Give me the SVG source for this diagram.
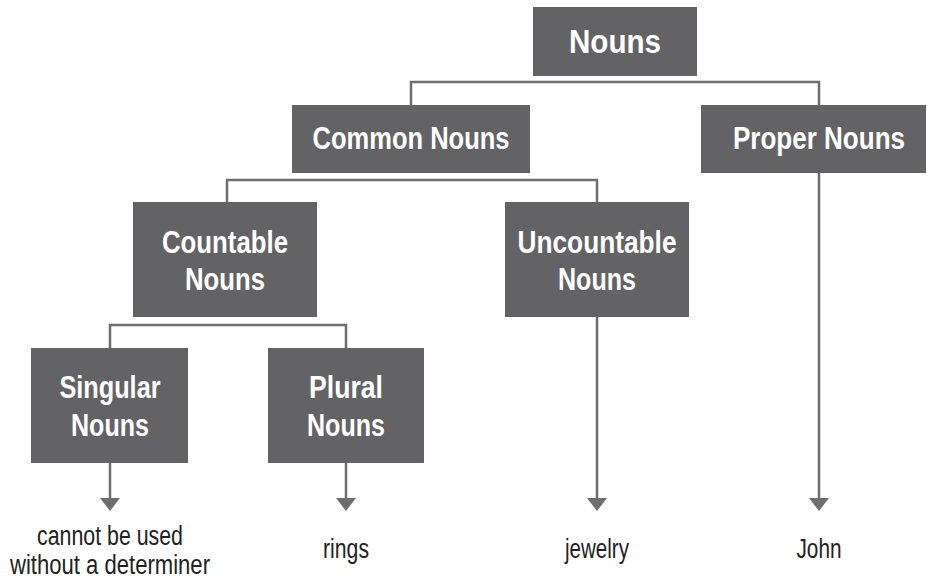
<svg xmlns="http://www.w3.org/2000/svg" width="927" height="579" viewBox="0 0 927 579">
<style>
.box{fill:#636365}
.t{font-family:"Liberation Sans",Arial,sans-serif;font-weight:bold;font-size:31px;fill:#ffffff;text-anchor:middle}
.big{font-size:33px}
.lbl{font-family:"Liberation Sans",Arial,sans-serif;font-size:27px;fill:#222222;text-anchor:middle}
.ln{fill:none;stroke:#6e6e6e;stroke-width:2.5}
.ah{fill:#6e6e6e}
</style>
<g id="connectors">
<path class="ln" d="M411,105 V82 H819 V105"/>
<path class="ln" d="M227,202 V180 H597 V202"/>
<path class="ln" d="M110,348 V325 H346 V348"/>
<line class="ln" x1="110" y1="463" x2="110" y2="499"/>
<path class="ah" d="M100,498 L120,498 L110,511 Z"/>
<line class="ln" x1="346" y1="463" x2="346" y2="499"/>
<path class="ah" d="M336,498 L356,498 L346,511 Z"/>
<line class="ln" x1="597" y1="317" x2="597" y2="499"/>
<path class="ah" d="M587,498 L607,498 L597,511 Z"/>
<line class="ln" x1="819" y1="173" x2="819" y2="499"/>
<path class="ah" d="M809,498 L829,498 L819,511 Z"/>
</g>
<g id="nouns">
<rect class="box" x="533" y="7" width="164" height="69"/>
<text class="t big" x="615" y="53" textLength="92" lengthAdjust="spacingAndGlyphs">Nouns</text>
</g>
<g id="common">
<rect class="box" x="292" y="105" width="238" height="68"/>
<text class="t" x="411" y="149" textLength="197" lengthAdjust="spacingAndGlyphs">Common Nouns</text>
</g>
<g id="proper">
<rect class="box" x="701" y="105" width="225" height="68"/>
<text class="t" x="819" y="149" textLength="172" lengthAdjust="spacingAndGlyphs">Proper Nouns</text>
</g>
<g id="countable">
<rect class="box" x="133" y="202" width="184" height="115"/>
<text class="t" x="225" y="253" textLength="126" lengthAdjust="spacingAndGlyphs">Countable</text>
<text class="t" x="225" y="290" textLength="80" lengthAdjust="spacingAndGlyphs">Nouns</text>
</g>
<g id="uncountable">
<rect class="box" x="505" y="202" width="184" height="115"/>
<text class="t" x="597" y="253" textLength="159" lengthAdjust="spacingAndGlyphs">Uncountable</text>
<text class="t" x="597" y="290" textLength="78" lengthAdjust="spacingAndGlyphs">Nouns</text>
</g>
<g id="singular">
<rect class="box" x="31" y="348" width="157" height="115"/>
<text class="t" x="110" y="398" textLength="101" lengthAdjust="spacingAndGlyphs">Singular</text>
<text class="t" x="110" y="436" textLength="78" lengthAdjust="spacingAndGlyphs">Nouns</text>
</g>
<g id="plural">
<rect class="box" x="268" y="348" width="156" height="115"/>
<text class="t" x="346" y="398" textLength="74" lengthAdjust="spacingAndGlyphs">Plural</text>
<text class="t" x="346" y="436" textLength="78" lengthAdjust="spacingAndGlyphs">Nouns</text>
</g>
<g id="labels">
<text class="lbl" x="110" y="545" textLength="146" lengthAdjust="spacingAndGlyphs">cannot be used</text>
<text class="lbl" x="110" y="574" textLength="200" lengthAdjust="spacingAndGlyphs">without a determiner</text>
<text class="lbl" x="346" y="558" textLength="46" lengthAdjust="spacingAndGlyphs">rings</text>
<text class="lbl" x="597" y="558" textLength="64" lengthAdjust="spacingAndGlyphs">jewelry</text>
<text class="lbl" x="819" y="558" textLength="45" lengthAdjust="spacingAndGlyphs">John</text>
</g>
</svg>
